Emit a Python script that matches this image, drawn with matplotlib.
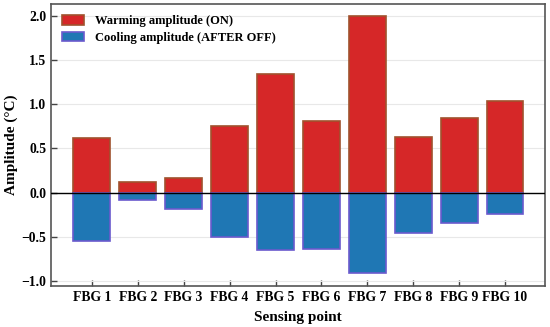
import matplotlib
matplotlib.use("Agg")
import matplotlib.pyplot as plt
import numpy as np

categories = ["FBG 1", "FBG 2", "FBG 3", "FBG 4", "FBG 5", "FBG 6", "FBG 7", "FBG 8", "FBG 9", "FBG 10"]
warming = [0.62, 0.125, 0.165, 0.76, 1.34, 0.81, 2.0, 0.63, 0.845, 1.035]
cooling = [-0.545, -0.087, -0.18, -0.50, -0.65, -0.636, -0.905, -0.46, -0.34, -0.24]
yticks = [-1.0, -0.5, 0.0, 0.5, 1.0, 1.5, 2.0]

plt.rcParams['font.family'] = ['Liberation Serif', 'DejaVu Serif']
plt.rcParams['font.weight'] = 'bold'

fig = plt.figure(figsize=(5.5, 3.27), dpi=100)
ax = fig.add_axes([51/550, 1 - 286/327, (545-51)/550, (286-4)/327])

x = np.arange(len(categories))
ax.bar(x, warming, width=0.8, color='#d62728', edgecolor='#a0522d', linewidth=1.2,
       label='Warming amplitude (ON)', zorder=3)
ax.bar(x, cooling, width=0.8, color='#1f77b4', edgecolor='#6a5acd', linewidth=1.2,
       label='Cooling amplitude (AFTER OFF)', zorder=3)
ax.axhline(0, color='black', linewidth=1.0, zorder=4)

ax.set_xlim(-0.89, 9.87)
ax.set_ylim(-1.057, 2.136)
ax.set_yticks(yticks)
ax.set_yticklabels([f"{v:.1f}".replace('-', '\u2212') for v in yticks])
ax.set_xticks(x)
ax.set_xticklabels(categories)
ax.grid(axis='y', color='#e8e8e8', linewidth=0.8, zorder=0)
ax.tick_params(axis='both', direction='in', labelsize=9.8, length=4, width=1, color='#444444')
for lab in ax.get_xticklabels() + ax.get_yticklabels():
    lab.set_fontweight('bold')
for s in ax.spines.values():
    s.set_color('#555555')
    s.set_linewidth(1.2)

ax.set_xlabel('Sensing point', fontsize=11, fontweight='bold', labelpad=5)
ax.set_ylabel('Amplitude (°C)', fontsize=11, fontweight='bold', labelpad=2)
leg = ax.legend(loc='upper left', frameon=False, handlelength=1.7, handleheight=0.8,
                borderaxespad=0.5, labelspacing=0.35, handletextpad=0.9,
                prop={'weight': 'bold', 'size': 9})

fig.savefig('out.png', dpi=100)
